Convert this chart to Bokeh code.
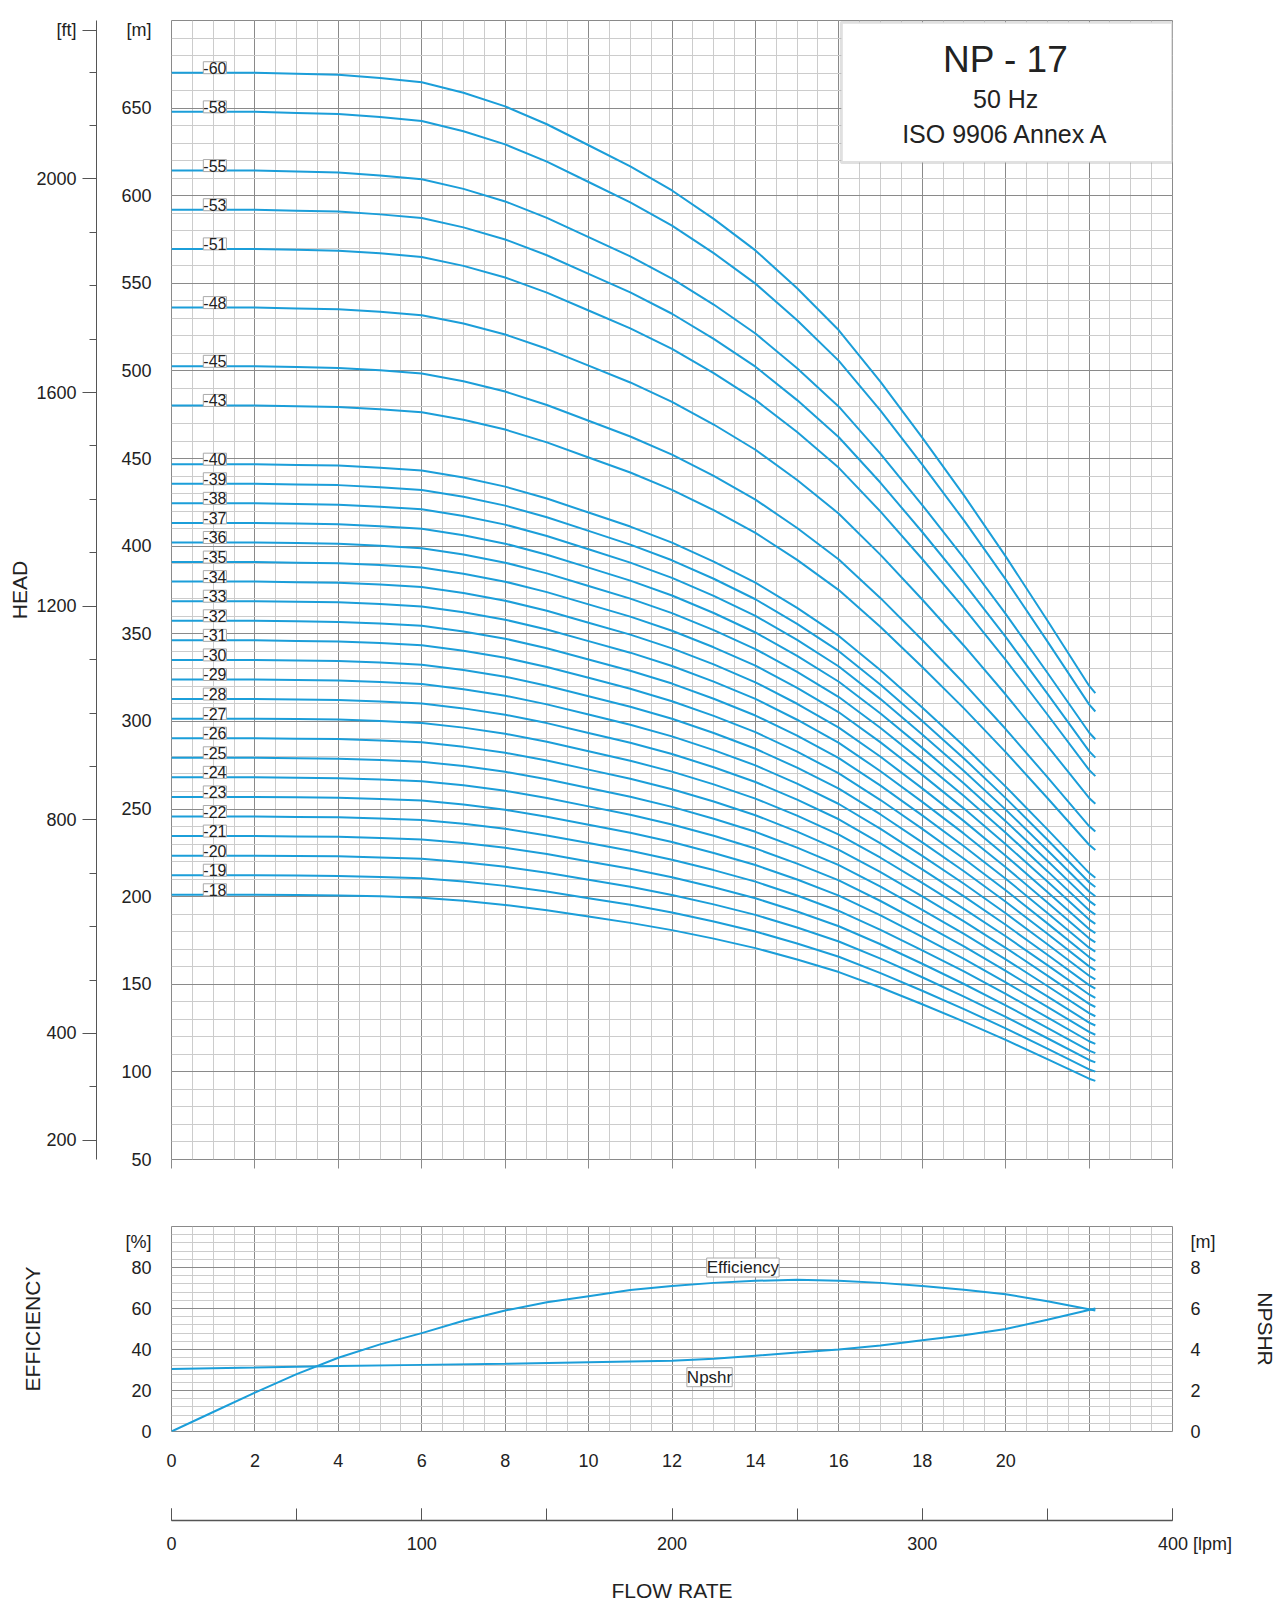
import numpy as np
from bokeh.plotting import figure
from bokeh.models import (Range1d, LinearAxis, SingleIntervalTicker, FixedTicker, Label,
                          BoxAnnotation, ColumnDataSource, CustomJSTickFormatter)
from bokeh.layouts import column
from bokeh.core.properties import value
from bokeh.embed import file_html
from bokeh.resources import INLINE

# ---- data ----
flow_q = [0, 1, 2, 3, 4, 5, 6, 7, 8, 9, 10, 11, 12, 13, 14, 15, 16, 17, 18, 19, 20,
          21, 22, 22.15]                                               # m3/h
head_per_stage = [11.17, 11.17, 11.17, 11.16, 11.15, 11.12, 11.08, 10.98, 10.85, 10.68,
                  10.48, 10.28, 10.05, 9.78, 9.48, 9.12, 8.72, 8.23, 7.70, 7.15, 6.57,
                  5.96, 5.34, 5.27]                                    # m per stage
stages = [60, 58, 55, 53, 51, 48, 45, 43, 40, 39, 38, 37, 36, 35, 34, 33, 32,
          31, 30, 29, 28, 27, 26, 25, 24, 23, 22, 21, 20, 19, 18]
eff_q = [0, 1, 2, 3, 4, 5, 6, 7, 8, 9, 10, 11, 12, 13, 14, 15, 16, 17, 18, 19, 20, 21, 22.15]
eff = [0, 9.5, 19, 28, 36, 42.5, 48, 54, 59, 63, 66, 69, 71, 72.5, 73.5, 74, 73.5, 72.5,
       71, 69.2, 67, 63.5, 59]
npsh_q = [0, 2, 4, 6, 8, 10, 12, 13, 14, 15, 16, 17, 18, 19, 20, 21, 22.15]
npsh = [3.05, 3.12, 3.2, 3.25, 3.3, 3.38, 3.45, 3.55, 3.7, 3.85, 4.0, 4.2, 4.45, 4.7,
        5.0, 5.45, 6.0]
m_ticks = [50, 100, 150, 200, 250, 300, 350, 400, 450, 500, 550, 600, 650]
ft_ticks = [200, 400, 800, 1200, 1600, 2000]
q_ticks = [0, 2, 4, 6, 8, 10, 12, 14, 16, 18, 20]
lpm_ticks = [0, 100, 200, 300, 400]
eff_ticks = [0, 20, 40, 60, 80]
npsh_ticks = [0, 2, 4, 6, 8]

BLUE = "#1b9ed9"
MAJ = "#8a8a8a"
MIN = "#cccccc"
FONT = "Liberation Sans"
TXT = "#222222"


def style_axis(ax):
    ax.major_label_text_font = FONT
    ax.major_label_text_font_size = "18px"
    ax.major_label_text_color = TXT
    ax.axis_label_text_font = FONT
    ax.axis_label_text_font_size = "21px"
    ax.axis_label_text_font_style = "normal"
    ax.axis_label_text_color = TXT


def no_ticks(ax):
    ax.axis_line_color = None
    ax.major_tick_out = 0
    ax.major_tick_in = 0
    ax.minor_tick_out = 0
    ax.minor_tick_in = 0


# ---------------- top figure ----------------
p = figure(width=1266, frame_width=1001, frame_height=1139, min_border_left=171,
           min_border_top=20, min_border_bottom=30, min_border_right=94,
           x_range=Range1d(0, 24), y_range=Range1d(50, 700),
           output_backend="svg", toolbar_location=None)
p.outline_line_color = MAJ
p.xaxis.ticker = FixedTicker(ticks=q_ticks + [22, 24])
p.xgrid.ticker = SingleIntervalTicker(interval=2, num_minor_ticks=4)
p.yaxis.ticker = FixedTicker(ticks=m_ticks + [694.3])
p.ygrid.ticker = SingleIntervalTicker(interval=50, num_minor_ticks=5)
for g in (p.xgrid, p.ygrid):
    g.grid_line_color = MAJ
    g.minor_grid_line_color = MIN
p.xaxis.axis_line_color = None
p.xaxis.major_tick_out = 9
p.xaxis.major_tick_in = 0
p.xaxis.minor_tick_out = 0
p.xaxis.major_tick_line_color = MAJ
p.xaxis.formatter = CustomJSTickFormatter(code="return ''")
no_ticks(p.yaxis[0])
style_axis(p.yaxis[0])
p.yaxis.formatter = CustomJSTickFormatter(code="return tick > 690 ? '[m]' : tick.toFixed(0)")
p.yaxis.major_label_standoff = 20
p.yaxis.axis_label = " "
p.yaxis.axis_label_text_font_size = "8px"
p.yaxis.axis_label_standoff = 10

p.extra_y_ranges = {"ft": Range1d(50 / 0.3048, 700 / 0.3048)}
ft = LinearAxis(y_range_name="ft", axis_label="HEAD",
                ticker=FixedTicker(ticks=ft_ticks + [694.3 / 0.3048],
                                   minor_ticks=list(range(200, 2300, 100))))
style_axis(ft)
ft.formatter = CustomJSTickFormatter(code="return tick > 2200 ? '[ft]' : tick.toFixed(0)")
ft.axis_line_color = "#555"
ft.major_tick_out = 14
ft.major_tick_in = 0
ft.minor_tick_out = 7
ft.minor_tick_in = 0
ft.major_tick_line_color = "#555"
ft.minor_tick_line_color = "#555"
ft.major_label_standoff = 6
ft.axis_label_standoff = 2
p.add_layout(ft, "left")

hps = np.array(head_per_stage)
for s in stages:
    p.line(flow_q, hps * s, line_color=BLUE, line_width=2)

lab_src = ColumnDataSource(dict(x=[1.04] * len(stages),
                                y=[np.interp(1.04, flow_q, hps) * s for s in stages],
                                t=["-%d" % s for s in stages]))
p.text("x", "y", "t", source=lab_src, text_font=value(FONT), text_font_size="16px",
       text_color=TXT, text_align="center", text_baseline="middle", y_offset=-5,
       background_fill_color="white", border_line_color="#aaaaaa")

p.add_layout(BoxAnnotation(left=16.06, right=24, bottom=619, top=699,
                           fill_color="white", fill_alpha=1, line_color="#999", line_width=3))
p.add_layout(Label(x=20.0, y=678, text="NP - 17", text_font=FONT, text_font_size="37px",
                   text_align="center", text_baseline="middle", text_color=TXT))
p.add_layout(Label(x=20.0, y=655, text="50 Hz", text_font=FONT, text_font_size="25px",
                   text_align="center", text_baseline="middle", text_color=TXT))
p.add_layout(Label(x=20.0, y=635, text="ISO 9906 Annex A", text_font=FONT,
                   text_font_size="25px", text_align="center", text_baseline="middle",
                   text_color=TXT))

# ---------------- bottom figure ----------------
b = figure(width=1266, frame_width=1001, frame_height=205, min_border_left=171,
           min_border_top=37, min_border_bottom=160, min_border_right=94,
           x_range=Range1d(0, 24), y_range=Range1d(0, 100),
           output_backend="svg", toolbar_location=None)
b.outline_line_color = MAJ
b.xaxis.ticker = FixedTicker(ticks=q_ticks + [24.9])
b.xgrid.ticker = SingleIntervalTicker(interval=2, num_minor_ticks=4)
b.yaxis.ticker = FixedTicker(ticks=eff_ticks + [92.5])
b.ygrid.ticker = FixedTicker(ticks=[0, 20, 40, 60, 80, 100],
                             minor_ticks=list(range(0, 101, 4)))
for g in (b.xgrid, b.ygrid):
    g.grid_line_color = MAJ
    g.minor_grid_line_color = MIN
b.xaxis.formatter = CustomJSTickFormatter(code="return tick > 24 ? '[m³/h]' : tick.toFixed(0)")
b.yaxis.formatter = CustomJSTickFormatter(code="return tick > 90 ? '[%]' : tick.toFixed(0)")
for ax in (b.xaxis[0], b.yaxis[0]):
    no_ticks(ax)
    style_axis(ax)
b.xaxis.major_label_standoff = 22
b.xaxis.axis_label = " "
b.xaxis.axis_label_text_font_size = "10px"
b.xaxis.axis_label_standoff = 37
b.yaxis.major_label_standoff = 20
b.yaxis.axis_label = "EFFICIENCY"
b.yaxis.axis_label_standoff = 78

b.extra_y_ranges = {"np": Range1d(0, 10)}
ra = LinearAxis(y_range_name="np", ticker=FixedTicker(ticks=npsh_ticks + [9.25]),
                axis_label="NPSHR")
no_ticks(ra)
style_axis(ra)
ra.formatter = CustomJSTickFormatter(code="return tick > 9 ? '[m]' : tick.toFixed(0)")
ra.major_label_standoff = 18
ra.axis_label_standoff = 36
b.add_layout(ra, "right")

b.extra_x_ranges = {"lpm": Range1d(0, 400)}
la = LinearAxis(x_range_name="lpm", axis_label="FLOW RATE",
                ticker=FixedTicker(ticks=lpm_ticks, minor_ticks=list(range(0, 401, 50))))
style_axis(la)
la.formatter = CustomJSTickFormatter(
    code="return tick > 390 ? '\u00a0\u00a0\u00a0\u00a0\u00a0\u00a0\u00a0\u00a0\u00a0400 [lpm]' : tick.toFixed(0)")
la.axis_line_color = "#555"
la.axis_line_width = 1.5
la.major_tick_in = 12
la.major_tick_out = 0
la.minor_tick_in = 12
la.minor_tick_out = 0
la.major_tick_line_color = "#555"
la.minor_tick_line_color = "#555"
la.major_label_standoff = 13
la.axis_label_standoff = 22
b.add_layout(la, "below")

b.line(eff_q, eff, line_color=BLUE, line_width=2)
b.line(npsh_q, npsh, line_color=BLUE, line_width=2, y_range_name="np")
b.text(x=[13.7, 12.9], y=[80, 26.5], text=["Efficiency", "Npshr"], text_font=value(FONT),
       text_font_size="17px", text_color=TXT, text_align="center", text_baseline="middle",
       background_fill_color="white", border_line_color="#aaaaaa")

lay = column(p, b, spacing=0)
open("out.html", "w").write(file_html(lay, INLINE))
